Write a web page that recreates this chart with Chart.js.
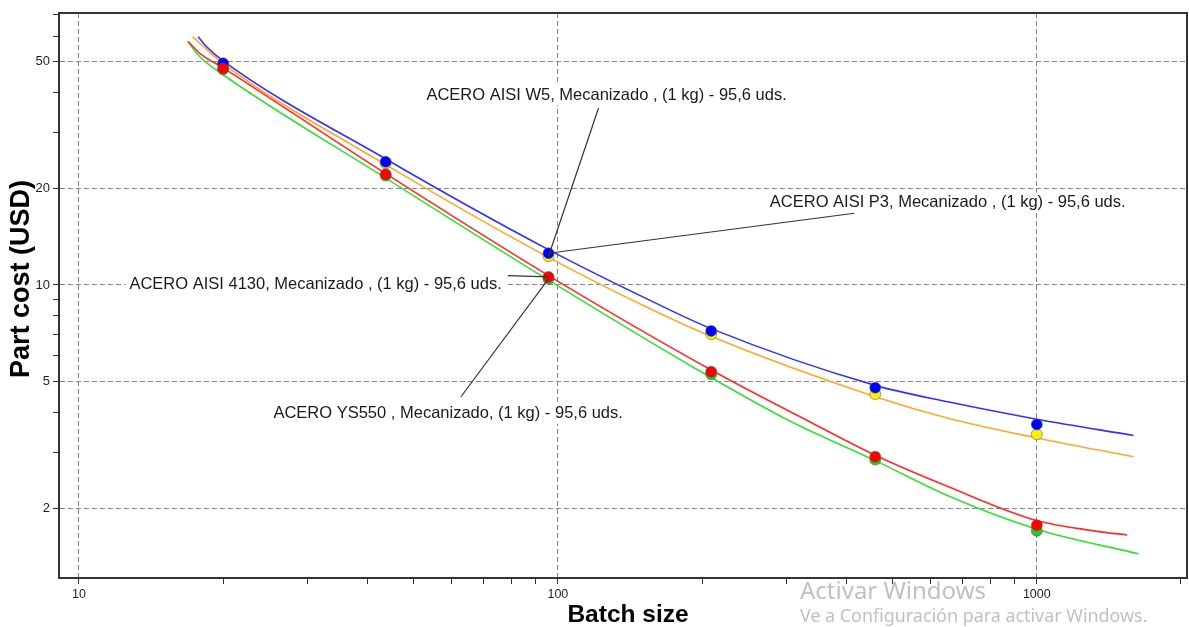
<!DOCTYPE html>
<html><head><meta charset="utf-8">
<script src="https://cdn.jsdelivr.net/npm/chart.js@4.4.1/dist/chart.umd.min.js"></script>
<style>
html,body{margin:0;padding:0;background:#fff;}
#wrap{position:relative;width:1189px;height:627px;overflow:hidden;}
canvas{display:block;}
.wm{position:absolute;font-family:"Noto Sans","Open Sans",sans-serif;color:rgba(150,150,150,0.6);white-space:nowrap;pointer-events:none;line-height:1;}
</style></head>
<body>
<div id="wrap"><canvas id="c" width="1189" height="627"></canvas>
<div class="wm" style="left:800px;top:577.5px;font-size:24px;">Activar Windows</div>
<div class="wm" style="left:800px;top:606.5px;font-size:17.9px;">Ve a Configuración para activar Windows.</div>
</div>
<script>
// ---- tick values ----
const xTicks = [10,20,30,40,50,60,70,80,90,100,200,300,400,500,600,700,800,900,1000,2000];
const xLabels = [10,100,1000];
const yTicks = [2,3,4,5,6,7,8,9,10,20,30,40,50,60,70];
const yLabels = [2,5,10,20,50];

// ---- axis titles ----
const xTitle = 'Batch size';
const yTitle = 'Part cost (USD)';

// ---- measured points (batch size -> part cost USD) ----
const batchSizes = [20, 43.7, 95.6, 209, 460, 1000];
const costP3    = [49.4, 24.3, 12.57, 7.18, 4.77, 3.66];   // blue
const costW5    = [49.1, 24.0, 12.3, 7.01, 4.55, 3.41];    // yellow
const cost4130  = [47.6, 22.2, 10.6, 5.35, 2.90, 1.77];    // red
const costYS550 = [47.3, 22.0, 10.45, 5.25, 2.84, 1.70];   // green

// ---- fitted curves ----
const curveP3X    = [17.74, 18.32, 20, 43.7, 95.6, 155, 209, 460, 656, 1000, 1591];
const curveP3Y    = [59.8, 56.4, 50.3, 24.8, 12.9, 8.98, 7.3, 4.85, 4.3, 3.8, 3.38];
const curveW5X    = [17.27, 17.88, 20, 43.7, 95.6, 155, 209, 460, 656, 1000, 1592];
const curveW5Y    = [59.8, 57.1, 49.3, 23.8, 12.2, 8.45, 6.9, 4.47, 3.82, 3.32, 2.90];
const curve4130X  = [16.93, 17.88, 20, 43.7, 95.6, 209, 330, 460, 656, 1000, 1349, 1545];
const curve4130Y  = [57.7, 53.1, 47.8, 22.3, 10.7, 5.42, 3.78, 2.93, 2.33, 1.83, 1.69, 1.65];
const curveYS550X = [16.85, 17.88, 20, 43.7, 95.6, 196, 302, 460, 656, 1000, 1630];
const curveYS550Y = [58.0, 51.8, 45.5, 21.6, 10.35, 5.42, 3.78, 2.82, 2.18, 1.72, 1.44];

// ---- annotation texts ----
const labelTexts = [
  "ACERO AISI W5, Mecanizado , (1 kg) - 95,6 uds.",
  "ACERO AISI P3, Mecanizado , (1 kg) - 95,6 uds.",
  "ACERO AISI 4130, Mecanizado , (1 kg) - 95,6 uds.",
  "ACERO YS550 , Mecanizado, (1 kg) - 95,6 uds."
];

const notes = [
  {text: labelTexts[0], at: [126.4, 39.3], from: [121.6, 35.8], series: costW5},
  {text: labelTexts[1], at: [651.6, 18.1], from: [416, 16.77], series: costP3},
  {text: labelTexts[2], at: [31.2, 10.07], from: [78.6, 10.69], series: cost4130},
  {text: labelTexts[3], at: [59.0, 3.95], from: [62.7, 4.46], series: costYS550}
];

const pts = (xs, ys) => xs.map((x, i) => ({x: x, y: ys[i]}));

const FONT = '"Liberation Sans", Arial, sans-serif';
Chart.defaults.font.family = FONT;
Chart.defaults.color = '#1e1e2a';

const lineDs = (label, xs, ys, color, order) => ({
  type: 'line', label, data: pts(xs, ys), borderColor: color, borderWidth: 1.6,
  pointRadius: 0, fill: false, cubicInterpolationMode: 'monotone', order
});
const markDs = (label, ys, color, order) => ({
  type: 'line', label, data: pts(batchSizes, ys), showLine: false,
  pointRadius: 5.5, pointBackgroundColor: color, pointBorderColor: 'rgba(90,90,90,0.55)',
  pointBorderWidth: 1, order
});

const overlay = {
  id: 'overlay',
  afterDatasetsDraw(chart) {
    const {ctx, scales: {x, y}} = chart;
    ctx.save();
    ctx.font = '16.5px ' + FONT;
    ctx.textAlign = 'center';
    ctx.textBaseline = 'middle';
    notes.forEach(n => {
      const tx = x.getPixelForValue(n.at[0]), ty = y.getPixelForValue(n.at[1]);
      const w = ctx.measureText(n.text).width;
      ctx.fillStyle = '#fff';
      ctx.fillRect(tx - w / 2 - 4, ty - 10, w + 8, 20);
      ctx.fillStyle = '#1a1a1a';
      ctx.fillText(n.text, tx, ty);
      ctx.strokeStyle = '#333';
      ctx.lineWidth = 1.2;
      ctx.beginPath();
      ctx.moveTo(x.getPixelForValue(n.from[0]), y.getPixelForValue(n.from[1]));
      ctx.lineTo(x.getPixelForValue(batchSizes[2]), y.getPixelForValue(n.series[2]));
      ctx.stroke();
    });
    ctx.restore();
  },
  afterDraw(chart) {
    const {ctx, chartArea: a} = chart;
    ctx.save();
    ctx.strokeStyle = '#333';
    ctx.lineWidth = 2;
    ctx.strokeRect(a.left, a.top, a.right - a.left, a.bottom - a.top);
    // axis titles
    ctx.fillStyle = '#000';
    ctx.textAlign = 'center';
    ctx.textBaseline = 'middle';
    ctx.font = 'bold 24.5px ' + FONT;
    ctx.fillText(xTitle, 628, 615);
    ctx.translate(22, 279);
    ctx.rotate(-Math.PI / 2);
    ctx.font = 'bold 27px ' + FONT;
    ctx.fillText(yTitle, 0, 0);
    ctx.restore();
  }
};

new Chart(document.getElementById('c'), {
  type: 'line',
  data: {
    datasets: [
      markDs('4130 pts', cost4130, '#ff0000', 0),
      markDs('P3 pts', costP3, '#0000ff', 1),
      markDs('W5 pts', costW5, '#ffee00', 2),
      markDs('YS550 pts', costYS550, '#22cc22', 3),
      lineDs('ACERO AISI P3', curveP3X, curveP3Y, '#3030ff', 10),
      lineDs('ACERO AISI W5', curveW5X, curveW5Y, '#ffa726', 11),
      lineDs('ACERO AISI 4130', curve4130X, curve4130Y, '#ff2a2a', 12),
      lineDs('ACERO YS550', curveYS550X, curveYS550Y, '#33e033', 13)
    ]
  },
  options: {
    responsive: false,
    animation: false,
    devicePixelRatio: 1,
    layout: {autoPadding: false, padding: {left: 0, right: 2, top: 13, bottom: 0}},
    plugins: {legend: {display: false}, tooltip: {enabled: false}},
    scales: {
      x: {
        type: 'logarithmic', min: 9.085, max: 2059, bounds: 'data',
        afterBuildTicks: s => { s.ticks = xTicks.map(v => ({value: v, major: xLabels.includes(v)})); },
        afterFit: s => { s.height = 49; s.paddingLeft = 0; s.paddingRight = 0; },
        ticks: {autoSkip: false, maxRotation: 0, minRotation: 0, padding: 3, font: {size: 12.5},
          callback: v => xLabels.includes(v) ? String(v) : ''},
        grid: {color: c => (c.tick && xLabels.includes(c.tick.value)) ? '#858585' : 'rgba(0,0,0,0)',
          tickColor: '#333', tickLength: 6, lineWidth: 1, tickWidth: 1},
        border: {display: true, color: '#333', width: 2, dash: [5, 3]},
        title: {display: false, text: xTitle}
      },
      y: {
        type: 'logarithmic', min: 1.21, max: 71.0, bounds: 'data',
        afterBuildTicks: s => { s.ticks = yTicks.map(v => ({value: v, major: yLabels.includes(v)})); },
        afterFit: s => { s.width = 59; s.paddingTop = 0; s.paddingBottom = 0; },
        ticks: {autoSkip: false, padding: 3, font: {size: 13},
          callback: v => yLabels.includes(v) ? String(v) : ''},
        grid: {color: c => (c.tick && yLabels.includes(c.tick.value)) ? '#858585' : 'rgba(0,0,0,0)',
          tickColor: '#333', tickLength: 6, lineWidth: 1, tickWidth: 1},
        border: {display: true, color: '#333', width: 2, dash: [5, 3]},
        title: {display: false, text: yTitle}
      }
    }
  },
  plugins: [overlay]
});
</script>
</body></html>
